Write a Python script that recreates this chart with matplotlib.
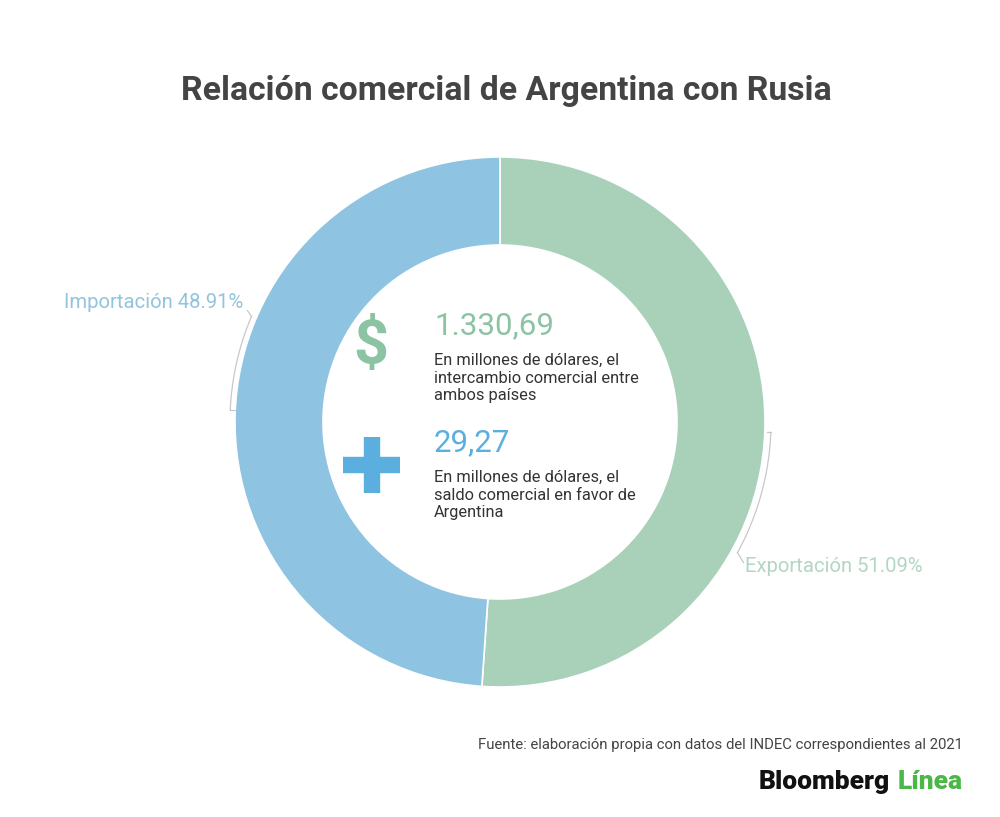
"""
Donut chart: Argentina - Russia trade relation
"""

import matplotlib

matplotlib.use("Agg")
import matplotlib.pyplot as plt
import numpy as np

plt.rcParams["font.family"] = ["Roboto", "DejaVu Sans"]

## Data
categories = ["Exportación", "Importación"]
shares = [51.09, 48.91]
intercambio = "1.330,69"
saldo = "29,27"
intercambio_txt = "En millones de dólares, el\nintercambio comercial entre\nambos países"
saldo_txt = "En millones de dólares, el\nsaldo comercial en favor de\nArgentina"
title = "Relación comercial de Argentina con Rusia"
source = "Fuente: elaboración propia con datos del INDEC correspondientes al 2021"

## Colours
green = "#a9d1ba"
blue = "#8ec4e1"
green_txt = "#8cc3a3"
blue_txt = "#5bafdf"
W, H = 1000, 817


def py(y):
    # pixel row (from top) -> data y (from bottom)
    return H - y


def bracket(cx, cy, r, a0, a1):
    t = np.radians(np.linspace(a0, a1, 60))
    return cx + r * np.cos(t), cy + r * np.sin(t)


def plot_data() -> None:
    fig = plt.figure(figsize=(W / 100, H / 100), dpi=100)
    ax = fig.add_axes([0, 0, 1, 1])

    cx, cy, r_out = 500, py(422), 265
    ax.pie(
        shares,
        colors=[green, blue],
        startangle=90,
        counterclock=False,
        radius=r_out,
        center=(cx, cy),
        wedgeprops=dict(width=88, edgecolor="white", linewidth=1.2),
    )
    ax.set_xlim(0, W)
    ax.set_ylim(0, H)
    ax.set_aspect("equal")
    ax.axis("off")

    # title
    ax.text(506, py(91), title, ha="center", va="center", fontsize=24.3,
            fontweight="bold", color="#444444")

    # label brackets
    lc = "#c8c8c8"
    bx, by = bracket(cx, cy, 270, 157, 177.5)
    ax.plot(bx, by, color=lc, lw=0.9)
    ax.plot([bx[0], bx[0] - 4], [by[0], by[0] + 6], color=lc, lw=0.9)
    ax.plot([bx[-1], bx[-1] + 5], [by[-1], by[-1]], color=lc, lw=0.9)
    ax.text(64, py(302), f"{categories[1]} {shares[1]:.2f}%", ha="left",
            va="center", fontsize=14.6, color="#93c4df")

    bx, by = bracket(cx, cy, 271, -2.2, -28.8)
    ax.plot(bx, by, color=lc, lw=0.9)
    ax.plot([bx[0], bx[0] - 4], [by[0], by[0]], color=lc, lw=0.9)
    ax.plot([bx[-1], bx[-1] + 6], [by[-1], by[-1] - 10], color=lc, lw=0.9)
    ax.text(745, py(566), f"{categories[0]} {shares[0]:.2f}%", ha="left",
            va="center", fontsize=14.6, color="#b3d6c3")

    # centre: dollar sign + figures
    ax.text(371, py(347), "$", ha="center", va="center", fontsize=44,
            fontweight="bold", color="#8cc3a3")
    ax.text(434, py(326), intercambio, ha="left", va="center", fontsize=22.5,
            color=green_txt)
    ax.text(434, py(353), intercambio_txt, ha="left", va="top", fontsize=11.8,
            color="#333333", linespacing=1.22)

    # plus icon
    ax.plot([343, 400], [py(465), py(465)], color=blue_txt, lw=11.8,
            solid_capstyle="butt")
    ax.plot([371.5, 371.5], [py(437), py(493)], color=blue_txt, lw=11.8,
            solid_capstyle="butt")
    ax.text(434, py(443), saldo, ha="left", va="center", fontsize=22.5,
            color=blue_txt)
    ax.text(434, py(470), saldo_txt, ha="left", va="top", fontsize=11.8,
            color="#333333", linespacing=1.22)

    # source + logo
    ax.text(963, py(745), source, ha="right", va="center", fontsize=10.7,
            color="#444444")
    t2 = ax.text(963, py(782), "Línea", ha="right", va="center", fontsize=19,
                 fontweight="black", color="#4bb748")
    fig.canvas.draw()
    bb = t2.get_window_extent()
    ax.text(bb.x0 - 8, py(782), "Bloomberg", ha="right", va="center",
            fontsize=19, fontweight="black", color="#111111")

    fig.savefig("out.png", dpi=100, facecolor="white")


if __name__ == "__main__":
    plot_data()
